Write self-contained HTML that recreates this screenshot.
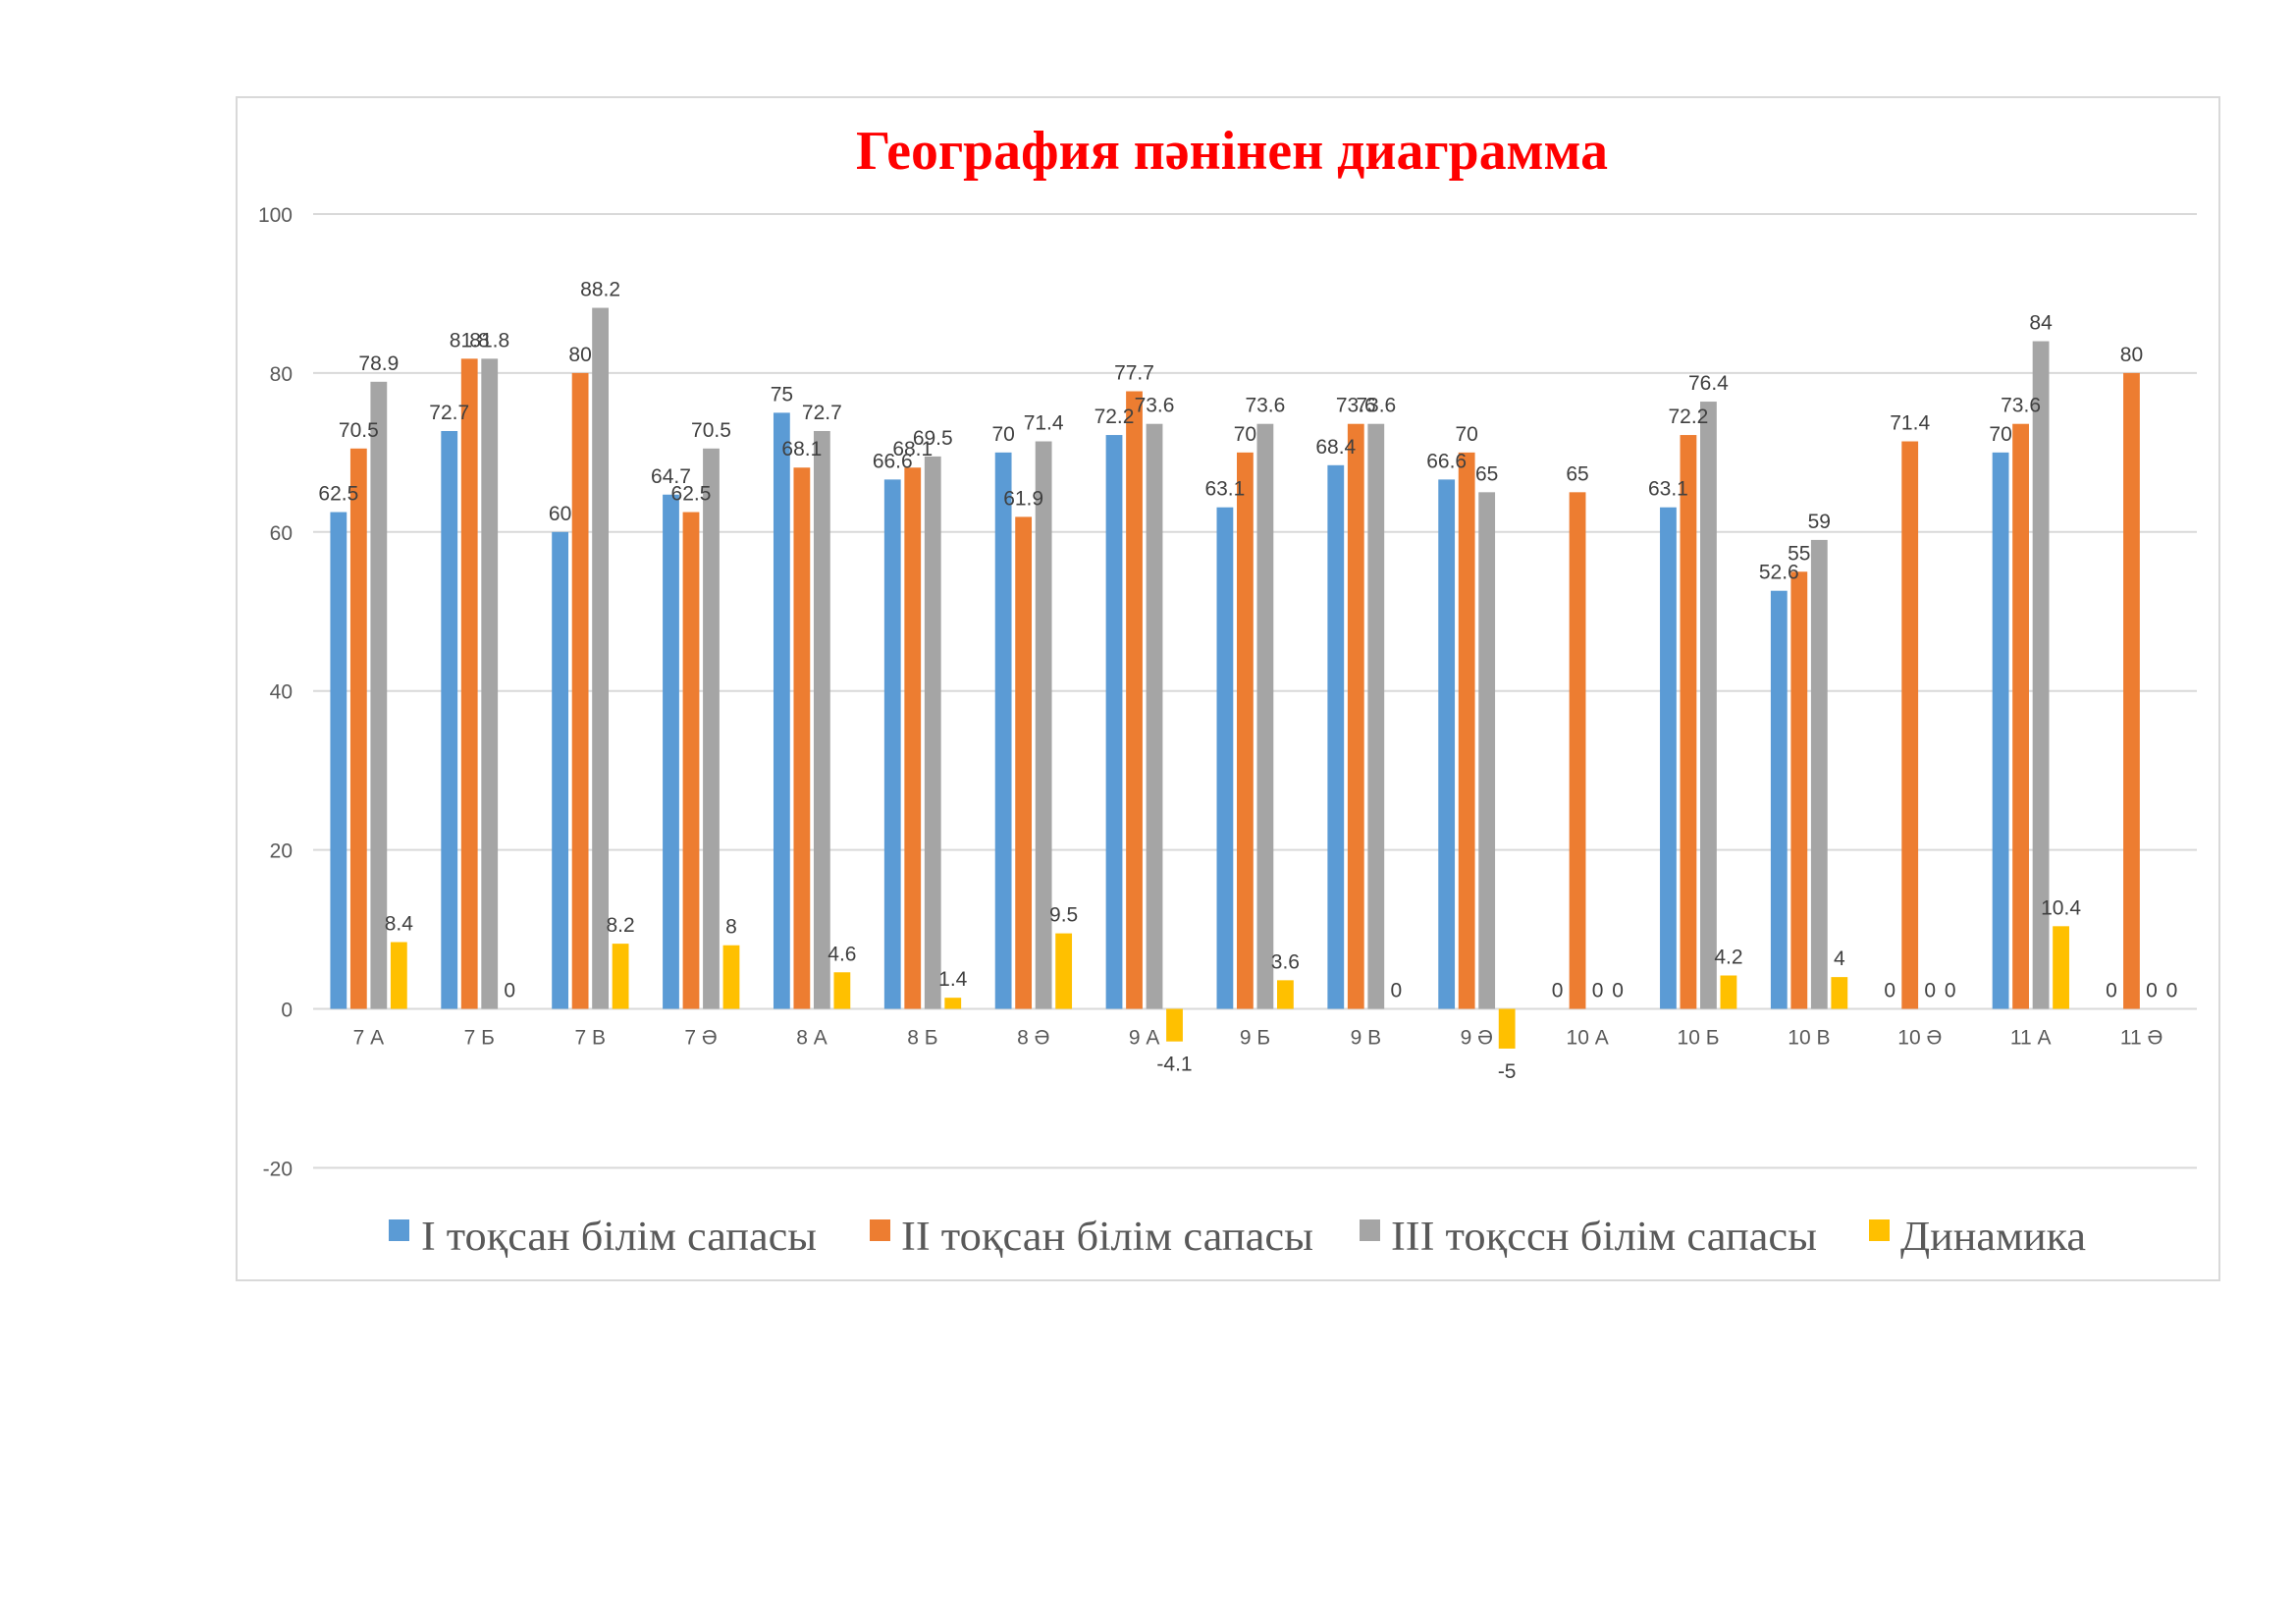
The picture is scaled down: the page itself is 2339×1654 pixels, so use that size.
<!DOCTYPE html>
<html><head><meta charset="utf-8"><style>
html,body{margin:0;padding:0;background:#fff;}
svg{display:block;}
</style></head><body>
<svg id="s" width="2339" height="1654" xmlns="http://www.w3.org/2000/svg">
<rect x="241" y="99" width="2020" height="1205" fill="#fff" stroke="#d9d9d9" stroke-width="2"/>
<text x="1255" y="172" text-anchor="middle" font-family="Liberation Serif, serif" font-weight="bold" font-size="56" fill="#ff0000" textLength="766" lengthAdjust="spacingAndGlyphs">География пәнінен диаграмма</text>
<g id="g"></g>
<g font-family="Liberation Serif, serif" font-size="42" fill="#595959">
<rect x="396" y="1242" width="21" height="22" fill="#5B9BD5"/>
<text x="429" y="1273" textLength="403" lengthAdjust="spacingAndGlyphs">І тоқсан білім сапасы</text>
<rect x="886" y="1242" width="21" height="22" fill="#ED7D31"/>
<text x="918" y="1273" textLength="420" lengthAdjust="spacingAndGlyphs">ІІ тоқсан білім сапасы</text>
<rect x="1385" y="1242" width="21" height="22" fill="#A5A5A5"/>
<text x="1417" y="1273" textLength="434" lengthAdjust="spacingAndGlyphs">ІІІ тоқссн білім сапасы</text>
<rect x="1904" y="1242" width="21" height="22" fill="#FFC000"/>
<text x="1936" y="1273" textLength="189" lengthAdjust="spacingAndGlyphs">Динамика</text>
</g>
</svg>
<script>
(function(){
var cats=["7 А","7 Б","7 В","7 Ә","8 А","8 Б","8 Ә","9 А","9 Б","9 В","9 Ә","10 А","10 Б","10 В","10 Ә","11 А","11 Ә"];
var d=[[62.5,70.5,78.9,8.4],[72.7,81.8,81.8,0],[60,80,88.2,8.2],[64.7,62.5,70.5,8],[75,68.1,72.7,4.6],[66.6,68.1,69.5,1.4],[70,61.9,71.4,9.5],[72.2,77.7,73.6,-4.1],[63.1,70,73.6,3.6],[68.4,73.6,73.6,0],[66.6,70,65,-5],[0,65,0,0],[63.1,72.2,76.4,4.2],[52.6,55,59,4],[0,71.4,0,0],[70,73.6,84,10.4],[0,80,0,0]];
var col=["#5B9BD5","#ED7D31","#A5A5A5","#FFC000"];
function Y(v){return 1027.5-8.095*v;}
var h='';var L=319,R=2238,cw=(R-L)/17;
for(var t=-20;t<=100;t+=20){h+='<line x1="'+L+'" x2="'+R+'" y1="'+Y(t)+'" y2="'+Y(t)+'" stroke="#d9d9d9" stroke-width="2"/>';
h+='<text x="298" y="'+(Y(t)+8)+'" text-anchor="end" font-family="Liberation Sans, sans-serif" font-size="21" fill="#595959">'+t+'</text>';}
var lab='';
for(var i=0;i<17;i++){var c=L+cw*(i+0.5);var x0=c-39;
h+='<text x="'+c+'" y="'+(Y(0)+36)+'" text-anchor="middle" font-family="Liberation Sans, sans-serif" font-size="21" fill="#595959">'+cats[i]+'</text>';
for(var k=0;k<4;k++){var v=d[i][k];var bx=x0+k*20.5;var ty=Math.min(Y(v),Y(0));var hh=Math.abs(Y(v)-Y(0));
if(hh>0)h+='<rect x="'+bx+'" y="'+ty+'" width="16.8" height="'+hh+'" fill="'+col[k]+'"/>';
var ly=v>=0?Y(v)-12:Y(v)+30;
lab+='<text x="'+(bx+8.4)+'" y="'+ly+'" text-anchor="middle" font-family="Liberation Sans, sans-serif" font-size="21" fill="#404040">'+v+'</text>';}}
document.getElementById('g').innerHTML=h+lab;
})();
</script>
</body></html>
